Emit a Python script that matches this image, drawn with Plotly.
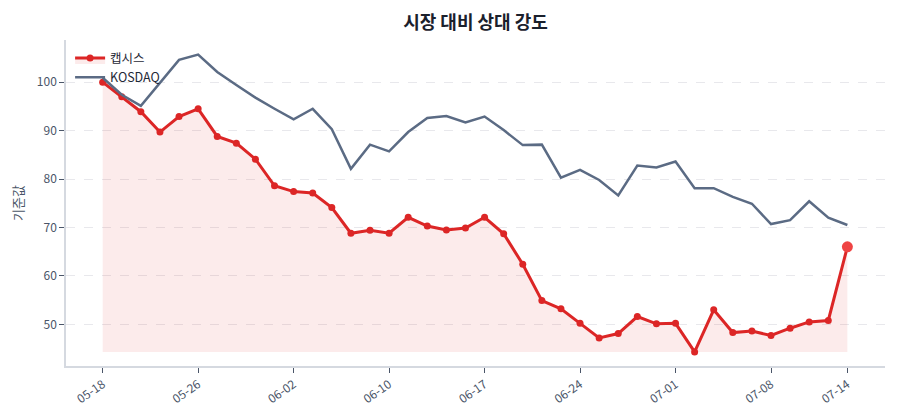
import plotly.graph_objects as go

dates = ["05-18", "05-19", "05-20", "05-21", "05-22", "05-26", "05-27", "05-28", "05-29", "06-01",
         "06-02", "06-04", "06-05", "06-08", "06-09", "06-10", "06-11", "06-12", "06-15", "06-16",
         "06-17", "06-18", "06-19", "06-22", "06-23", "06-24", "06-25", "06-26", "06-29", "06-30",
         "07-01", "07-02", "07-03", "07-06", "07-07", "07-08", "07-09", "07-10", "07-13", "07-14"]

capsys = [100.0, 97.0, 93.9, 89.7, 92.9, 94.5, 88.8, 87.4, 84.1, 78.6,
          77.4, 77.1, 74.1, 68.8, 69.4, 68.8, 72.1, 70.3, 69.5, 69.9,
          72.1, 68.7, 62.4, 54.9, 53.2, 50.2, 47.2, 48.1, 51.6, 50.1,
          50.2, 44.3, 53.0, 48.3, 48.6, 47.7, 49.2, 50.5, 50.8, 66.0]

kosdaq = [100.9, 97.4, 95.1, 99.9, 104.6, 105.7, 102.1, 99.4, 96.8, 94.5,
          92.3, 94.5, 90.3, 82.1, 87.1, 85.7, 89.7, 92.6, 93.0, 91.7,
          92.9, 90.1, 87.0, 87.1, 80.3, 81.9, 79.8, 76.6, 82.8, 82.4,
          83.6, 78.1, 78.1, 76.3, 74.9, 70.7, 71.5, 75.4, 72.0, 70.5]

tick_labels = ["05-18", "05-26", "06-02", "06-10", "06-17", "06-24", "07-01", "07-08", "07-14"]

RED = "#dc2626"
GRAY = "#5b6b84"
FONT = "Noto Sans CJK KR"

base = min(capsys)

fig = go.Figure()
fig.add_trace(go.Scatter(x=dates, y=[base] * len(dates), mode="lines",
                         line=dict(width=0, color="rgba(0,0,0,0)"),
                         showlegend=False, hoverinfo="skip"))
fig.add_trace(go.Scatter(x=dates, y=capsys, name="캡시스", mode="lines+markers",
                         line=dict(color=RED, width=3), marker=dict(size=7, color=RED),
                         fill="tonexty", fillcolor="rgba(220,38,38,0.09)"))
fig.add_trace(go.Scatter(x=dates, y=kosdaq, name="KOSDAQ", mode="lines",
                         line=dict(color=GRAY, width=2.5)))
fig.add_trace(go.Scatter(x=[dates[-1]], y=[capsys[-1]], mode="markers",
                         marker=dict(size=11, color="#ef4444"), showlegend=False))

fig.update_layout(
    width=900, height=420,
    margin=dict(l=66, r=15, t=40, b=54),
    paper_bgcolor="white", plot_bgcolor="white",
    font=dict(family=FONT, size=12, color="#4a5568"),
    title=dict(text="<b>시장 대비 상대 강도</b>", x=0.5, xref="paper", y=0.945, yanchor="middle",
               font=dict(family=FONT, size=18, color="#1a202c")),
    legend=dict(x=0.005, y=0.99, xanchor="left", yanchor="top", bgcolor="rgba(255,255,255,0)",
                traceorder="normal",
                font=dict(family=FONT, size=12.5, color="#1f2937"), tracegroupgap=0),
    showlegend=True,
)
fig.update_xaxes(type="category", tickmode="array", tickvals=tick_labels, ticktext=tick_labels,
                 range=[-1.92, 40.97], tickangle=-35, showgrid=False,
                 showline=True, linecolor="#d5d9e0", linewidth=1.5,
                 ticks="outside", ticklen=5, tickcolor="#4a5568",
                 tickfont=dict(size=12, color="#4a5568"))
fig.update_yaxes(range=[41.4, 108.7], tickvals=[50, 60, 70, 80, 90, 100],
                 showgrid=True, gridcolor="#e8e8ec", griddash="dash", gridwidth=1,
                 showline=True, linecolor="#d5d9e0", linewidth=1.5,
                 ticks="outside", ticklen=5, tickcolor="#4a5568", zeroline=False,
                 title=dict(text="기준값", font=dict(size=13, color="#4a5568"), standoff=10),
                 tickfont=dict(size=12, color="#4a5568"))

fig.write_html("out.html")
